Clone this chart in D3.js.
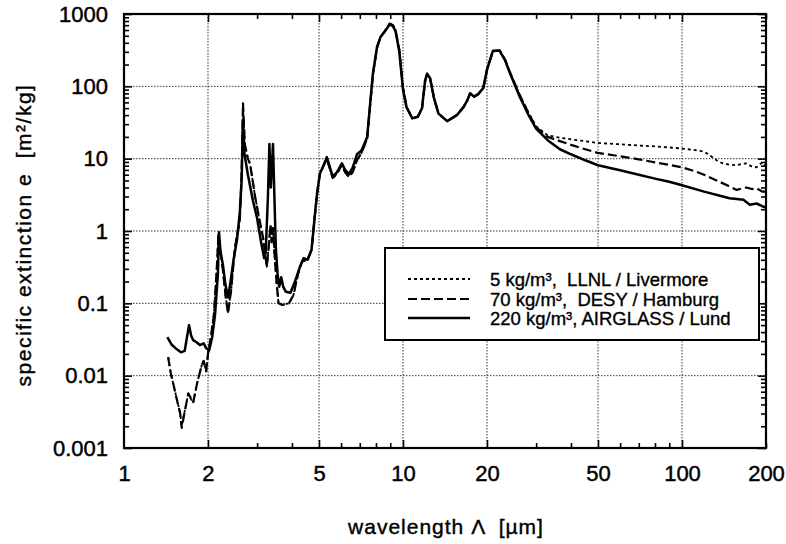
<!DOCTYPE html>
<html>
<head>
<meta charset="utf-8">
<script src="https://cdn.jsdelivr.net/npm/d3@7"></script>
<style>
body { margin: 0; background: #fff; }
text { font-family: "Liberation Sans", Arial, Helvetica, sans-serif; fill: #000; white-space: pre; }
</style>
</head>
<body>
<script>
// Data: [wavelength (um), specific extinction (m2/kg)]
const xTickLabels = [1, 2, 5, 10, 20, 50, 100, 200]
const yTickLabels = [0.001, 0.01, 0.1, 1, 10, 100, 1000]
const xGrid = [2, 5, 10, 20, 50, 100]
const legendLabels = ['5 kg/m\u00b3,  LLNL / Livermore', '70 kg/m\u00b3,  DESY / Hamburg', '220 kg/m\u00b3, AIRGLASS / Lund']

const livermore5 = [
    [1.44,0.018],[1.47,0.011],[1.5,0.0078],[1.55,0.0046],[1.59,0.003],[1.61,0.002],[1.64,0.0029],[1.7,0.0056],
    [1.74,0.0047],[1.77,0.0042],[1.83,0.008],[1.9,0.014],[1.93,0.016],[1.97,0.0115],[2.0,0.02],[2.05,0.035],
    [2.1,0.07],[2.15,0.3],[2.18,0.9],[2.21,0.6],[2.26,0.3],[2.31,0.13],[2.36,0.075],[2.42,0.15],[2.5,0.6],
    [2.6,1.4],[2.64,6],[2.67,55],[2.71,16],[2.78,10],[2.83,8.5],[2.95,3],[3.05,1.5],[3.15,0.8],[3.25,0.32],
    [3.3,0.6],[3.35,1.2],[3.38,0.7],[3.42,1.1],[3.46,0.5],[3.52,0.2],[3.58,0.1],[3.7,0.095],[3.9,0.1],
    [4.05,0.13],[4.2,0.25],[4.35,0.38],[4.55,0.4],[4.7,0.55],[4.82,1.5],[4.92,3.3],[5.04,6.3],[5.15,7.5],
    [5.33,10],[5.45,7.5],[5.6,5.4],[5.8,6.2],[6.04,8.2],[6.2,6.5],[6.4,5.6],[6.6,6.5],[6.84,9.5],[7.1,12],
    [7.44,19],[7.6,48],[7.8,145],[8.07,340],[8.3,480],[8.6,580],[8.97,740],[9.2,700],[9.4,600],[9.7,320],
    [10,95],[10.3,52],[10.8,36],[11.3,38],[11.7,50],[12.0,118],[12.2,148],[12.5,130],[12.9,70],[13.4,42],
    [14.4,33],[15.6,40],[16.5,52],[17.0,64],[17.4,80],[18.0,72],[18.6,78],[19.4,95],[20,170],[21,305],
    [22.2,315],[23.2,235],[24.2,155],[26.2,76],[28,45],[30,28],[33,21],[36.5,19.5],[40,18.5],[50,16.5],
    [60,15.8],[70,15.2],[80,14.8],[90,14.3],[100,13.8],[110,13.2],[120,12.5],[126,11.1],[133,9.5],[140,8.6],
    [150,8.2],[157,8.1],[165,8.5],[170,8.6],[178,7.8],[185,7.6],[194,8.9],[200,7.8]
]

const hamburg70 = [
    [1.44,0.018],[1.47,0.011],[1.5,0.0079],[1.55,0.0045],[1.59,0.003],[1.61,0.0019],[1.64,0.0028],[1.7,0.0057],
    [1.74,0.0048],[1.77,0.0043],[1.83,0.008],[1.9,0.014],[1.93,0.016],[1.97,0.0115],[2.0,0.02],[2.05,0.035],
    [2.1,0.07],[2.15,0.3],[2.18,0.9],[2.21,0.6],[2.26,0.3],[2.31,0.13],[2.36,0.073],[2.42,0.15],[2.5,0.6],
    [2.6,1.4],[2.64,6],[2.67,58],[2.71,16],[2.78,10],[2.83,8.5],[2.95,3],[3.05,1.5],[3.15,0.82],[3.25,0.32],
    [3.3,0.6],[3.35,1.2],[3.38,0.7],[3.42,1.1],[3.46,0.5],[3.52,0.2],[3.58,0.1],[3.7,0.095],[3.9,0.1],
    [4.05,0.13],[4.2,0.25],[4.35,0.38],[4.55,0.4],[4.7,0.55],[4.82,1.5],[4.92,3.3],[5.04,6.3],[5.15,7.5],
    [5.33,10],[5.45,7.5],[5.6,5.4],[5.8,6.2],[6.04,8.2],[6.2,6.5],[6.4,5.6],[6.6,6.5],[6.84,9.5],[7.1,12],
    [7.44,19],[7.6,48],[7.8,145],[8.07,340],[8.3,480],[8.6,580],[8.97,740],[9.2,700],[9.4,600],[9.7,320],
    [10,95],[10.3,52],[10.8,36],[11.3,38],[11.7,50],[12.0,118],[12.2,148],[12.5,130],[12.9,70],[13.4,42],
    [14.4,33],[15.6,40],[16.5,52],[17.0,64],[17.4,80],[18.0,72],[18.6,78],[19.4,95],[20,170],[21,305],
    [22.2,315],[23.2,235],[24.2,155],[26.2,76],[28,45],[30,27],[33,20],[36.5,17.5],[40,15.5],[45,13.5],
    [50,12],[60,10.8],[70,9.8],[80,8.9],[90,8.2],[100,7.6],[110,6.8],[120,6.0],[133,5.0],[145,4.3],
    [157,3.7],[165,3.9],[170,4.0],[178,3.8],[185,3.9],[194,3.5],[200,3.5]
]

const lund220 = [
    [1.43,0.034],[1.48,0.027],[1.53,0.024],[1.6,0.021],[1.65,0.022],[1.71,0.05],[1.74,0.036],[1.77,0.031],
    [1.82,0.029],[1.87,0.0265],[1.93,0.028],[1.97,0.024],[2.02,0.0225],[2.07,0.034],[2.12,0.07],[2.17,0.25],
    [2.19,0.96],[2.22,0.5],[2.26,0.35],[2.31,0.18],[2.36,0.12],[2.41,0.2],[2.47,0.4],[2.54,0.75],[2.6,1.8],
    [2.64,5],[2.67,34],[2.7,12],[2.78,6],[2.9,2.6],[3.0,1.5],[3.1,0.7],[3.18,0.42],[3.22,0.5],[3.28,3],
    [3.32,16],[3.36,4],[3.39,8],[3.42,16],[3.46,3],[3.5,0.6],[3.55,0.26],[3.6,0.17],[3.66,0.23],[3.72,0.17],
    [3.8,0.145],[3.95,0.14],[4.1,0.2],[4.27,0.32],[4.4,0.42],[4.55,0.4],[4.7,0.55],[4.82,1.5],[4.92,3.3],
    [5.04,6.3],[5.15,7.5],[5.33,10.5],[5.45,8],[5.6,5.6],[5.8,6.5],[6.04,8.6],[6.2,7],[6.4,6.1],[6.6,7.5],
    [6.84,11.5],[7.1,13],[7.44,20],[7.6,50],[7.8,150],[8.07,350],[8.3,480],[8.6,570],[8.97,720],[9.2,680],
    [9.4,580],[9.7,300],[10,90],[10.3,51],[10.8,36],[11.3,38],[11.7,50],[12.0,120],[12.2,150],[12.5,130],
    [12.9,70],[13.4,42],[14.4,33],[15.6,40],[16.5,52],[17.0,64],[17.4,80],[18.0,72],[18.6,78],[19.4,95],
    [20,170],[21,310],[22.2,310],[23.2,230],[24.2,150],[26.2,72],[28,42],[30,26],[33,18],[36.5,13.5],
    [40,11.5],[45,9.5],[50,8.1],[60,6.9],[70,6.0],[80,5.3],[90,4.8],[100,4.3],[120,3.5],[140,3.0],
    [148,2.84],[160,2.75],[166,2.7],[175,2.3],[185,2.4],[194,2.2],[200,2.1]
]

const series = [livermore5, hamburg70, lund220]
const dashes = ['3,3', '9,4', null]
const widths = [1.8, 2.2, 2.5]

// Layout
const W = 786, H = 544
const plot = { left: 124, right: 766, top: 14, bottom: 448 }

const svg = d3.select('body').append('svg')
    .attr('width', W)
    .attr('height', H)

svg.append('rect').attr('width', W).attr('height', H).attr('fill', '#fff')

const x = d3.scaleLog().domain([1, 200]).range([plot.left, plot.right])
const y = d3.scaleLog().domain([0.001, 1000]).range([plot.bottom, plot.top])

// minor tick values
const xMinor = [], yMinor = []
for (let d = 1; d <= 100; d *= 10) for (let k = 2; k <= 9; k++) if (d * k <= 200) xMinor.push(d * k)
for (let d = 0.001; d < 1000; d *= 10) for (let k = 2; k <= 9; k++) yMinor.push(d * k)

// grid
const grid = svg.append('g').attr('stroke', '#222').attr('stroke-width', 0.9).attr('stroke-dasharray', '1.5,1.5')
grid.selectAll('.gx').data(xGrid).enter().append('line')
    .attr('x1', d => x(d)).attr('x2', d => x(d))
    .attr('y1', plot.top).attr('y2', plot.bottom)
grid.selectAll('.gy').data(yTickLabels.slice(1, -1)).enter().append('line')
    .attr('x1', plot.left).attr('x2', plot.right)
    .attr('y1', d => y(d)).attr('y2', d => y(d))

// ticks (inside, mirrored)
function ticks(axisFn, scale, vals, size, transform) {
    const g = svg.append('g').attr('transform', transform)
        .call(axisFn(scale).tickValues(vals).tickSize(size).tickFormat(''))
    g.select('.domain').remove()
    g.selectAll('line').attr('stroke', '#000').attr('stroke-width', 1.6)
}
const xMajor = xTickLabels.slice(1, -1)
ticks(d3.axisBottom, x, xMinor.filter(v => !xMajor.includes(v)), -5, `translate(0,${plot.bottom})`)
ticks(d3.axisBottom, x, xMajor, -8, `translate(0,${plot.bottom})`)
ticks(d3.axisTop, x, xMinor.filter(v => !xMajor.includes(v)), -5, `translate(0,${plot.top})`)
ticks(d3.axisTop, x, xMajor, -8, `translate(0,${plot.top})`)
ticks(d3.axisLeft, y, yMinor, -5, `translate(${plot.left},0)`)
ticks(d3.axisLeft, y, yTickLabels, -8, `translate(${plot.left},0)`)
ticks(d3.axisRight, y, yMinor, -5, `translate(${plot.right},0)`)
ticks(d3.axisRight, y, yTickLabels, -8, `translate(${plot.right},0)`)

// tick labels
const xa = svg.append('g').attr('transform', `translate(0,${plot.bottom})`)
    .call(d3.axisBottom(x).tickValues(xTickLabels).tickSize(0).tickPadding(17).tickFormat(d => String(d)))
xa.select('.domain').remove()
xa.selectAll('text').style('font-size', '22px').attr('stroke', '#000').attr('stroke-width', 0.45)

const ya = svg.append('g').attr('transform', `translate(${plot.left},0)`)
    .call(d3.axisLeft(y).tickValues(yTickLabels).tickSize(0).tickPadding(16).tickFormat(d => String(d)))
ya.select('.domain').remove()
ya.selectAll('text').style('font-size', '22px').attr('stroke', '#000').attr('stroke-width', 0.45)

// curves
svg.append('clipPath').attr('id', 'clip').append('rect')
    .attr('x', plot.left).attr('y', plot.top)
    .attr('width', plot.right - plot.left).attr('height', plot.bottom - plot.top)

const line = d3.line().x(d => x(d[0])).y(d => y(d[1]))
svg.append('g').attr('clip-path', 'url(#clip)')
    .selectAll('path').data(series).enter().append('path')
    .attr('d', line)
    .attr('fill', 'none')
    .attr('stroke', '#000')
    .attr('stroke-width', (d, i) => widths[i])
    .attr('stroke-dasharray', (d, i) => dashes[i])
    .attr('stroke-linejoin', 'round')

// frame
svg.append('rect')
    .attr('x', plot.left).attr('y', plot.top)
    .attr('width', plot.right - plot.left).attr('height', plot.bottom - plot.top)
    .attr('fill', 'none').attr('stroke', '#000').attr('stroke-width', 2.2)

// legend
const lg = svg.append('g')
lg.append('rect').attr('x', 385).attr('y', 248).attr('width', 374).attr('height', 92)
    .attr('fill', '#fff').attr('stroke', '#000').attr('stroke-width', 2)
const rows = [279, 299, 318]
legendLabels.forEach((t, i) => {
    lg.append('line').attr('x1', 408).attr('x2', 470).attr('y1', rows[i]).attr('y2', rows[i])
        .attr('stroke', '#000').attr('stroke-width', widths[i]).attr('stroke-dasharray', dashes[i])
    lg.append('text').attr('x', 490).attr('y', rows[i] + 7).text(t)
        .style('font-size', '18.5px').attr('stroke', '#000').attr('stroke-width', 0.35)
})

// axis titles
svg.append('text').attr('x', 446).attr('y', 534).attr('text-anchor', 'middle')
    .style('font-size', '21px').style('letter-spacing', '1px')
    .attr('stroke', '#000').attr('stroke-width', 0.4)
    .text('wavelength \u039b  [\u00b5m]')
svg.append('text').attr('transform', 'translate(31,235) rotate(-90)').attr('text-anchor', 'middle')
    .style('font-size', '21px').style('letter-spacing', '1.5px')
    .attr('stroke', '#000').attr('stroke-width', 0.4)
    .text('specific extinction e  [m\u00b2/kg]')
</script>
</body>
</html>
